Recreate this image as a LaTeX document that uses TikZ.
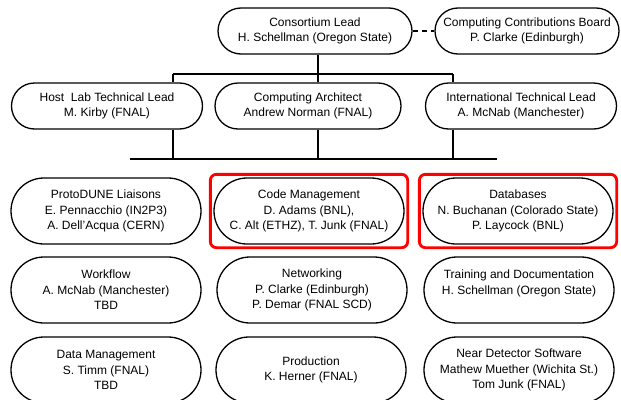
\documentclass[tikz,border=0pt]{standalone}
\usepackage{fontspec}
\setmainfont{Liberation Sans}
\usetikzlibrary{shapes.misc,fit}

\begin{document}
\begin{tikzpicture}[x=1pt,y=-1pt,
		box/.style={rounded rectangle, draw, line width=1.3pt, inner sep=0pt, align=center,
			minimum width=190pt, minimum height=66pt, font=\fontsize{12}{15.5}\selectfont},
		topbox/.style={box, minimum height=46pt},
		link/.style={line width=2pt},
		bar/.style={line width=2.6pt},
		hilite/.style={draw=red, line width=2.8pt, rounded corners=6pt, inner sep=3pt}]
		      \useasboundingbox (0,0) rectangle (621,399);

		      % leads
		      \node[topbox, minimum width=194pt] (lead) at (315,31) {Consortium Lead\\H. Schellman (Oregon State)};
		      \node[topbox, minimum width=184pt] (board) at (527,31) {Computing Contributions Board\\P. Clarke (Edinburgh)};

		      \node[topbox, minimum width=191pt] (hostlab) at (107,106) {Host\ \ Lab Technical Lead\\M. Kirby (FNAL)};
		      \node[topbox, minimum width=186pt] (architect) at (308,106) {Computing Architect\\Andrew Norman (FNAL)};
		      \node[topbox, minimum width=191pt] (itl) at (521,106) {International Technical Lead\\A. McNab (Manchester)};

		      % working groups
		      \node[box] (protodune) at (106,211) {ProtoDUNE Liaisons\\E. Pennacchio (IN2P3)\\A. Dell'Acqua (CERN)};
		      \node[box] (codemgmt) at (309,211) {Code Management\\D. Adams (BNL),\\C. Alt (ETHZ), T. Junk (FNAL)};
		      \node[box] (databases) at (518,211) {Databases\\N. Buchanan (Colorado State)\\P. Laycock (BNL)};

		      \node[box] (workflow) at (106,290) {Workflow\\A. McNab (Manchester)\\TBD};
		      \node[box] (networking) at (312,290) {Networking\\P. Clarke (Edinburgh)\\P. Demar (FNAL SCD)};
		      \node[box] (training) at (519,290) {Training and Documentation\\H. Schellman (Oregon State)\\\mbox{}};

		      \node[box] (datamgmt) at (106,370) {Data Management\\S. Timm (FNAL)\\TBD};
		      \node[box] (production) at (311,370) {Production\\K. Herner (FNAL)};
		      \node[box] (neardet) at (519,370) {Near Detector Software\\Mathew Muether (Wichita St.)\\Tom Junk (FNAL)};

		      % bars
		      \coordinate (b1w) at (173,74);
		      \coordinate (tap) at (318,74);
		      \coordinate (b1e) at (453,74);
		      \coordinate (b2w) at (130,159);
		      \coordinate (b2e) at (497,159);

		      \draw[bar] (b1w) -- (b1e);
		      \draw[bar] (b2w) -- (b2e);

		      \draw[link, dash pattern=on 5pt off 4pt] (lead.east) -- (board.west);
		      \draw[link] (lead.south -| tap) -- (tap);

		      \draw[link] (b1w) -- (b1w |- hostlab.north);
		      \draw[link] (tap) -- (tap |- architect.north);
		      \draw[link] (b1e) -- (b1e |- itl.north);

		      \draw[link] (hostlab.south -| b1w) -- (b1w |- b2w);
		      \draw[link] (architect.south -| tap) -- (tap |- b2w);
		      \draw[link] (itl.south -| b1e) -- (b1e |- b2w);

		      % highlighted groups
		      \node[hilite, fit=(codemgmt)] (codering) {};
		      \node[hilite, fit=(databases)] (dbring) {};
	      \end{tikzpicture}
\end{document}
